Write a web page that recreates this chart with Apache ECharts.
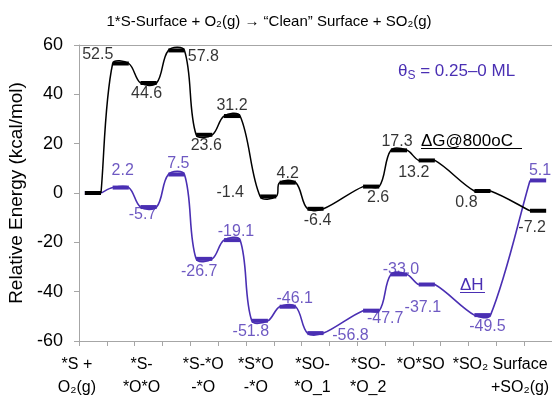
<!DOCTYPE html>
<html><head><meta charset="utf-8">
<script src="https://cdn.jsdelivr.net/npm/echarts@6/dist/echarts.min.js"></script>
<style>html,body{margin:0;padding:0;background:#fff}#c{width:552px;height:397px}</style>
</head><body><div id="c"></div>
<script>
// ---- data ----
var stepLabels = ['*S +\nO₂(g)', '*S-\n*O*O', '*S-*O\n-*O', '*S*O\n-*O', '*SO-\n*O_1', '*SO-\n*O_2', '*O*SO', '*SO₂', 'Surface\n+SO₂(g)'];
var yMin = -60, yMax = 60, yStep = 20;
var dGPos = [0, 1, 2, 3, 4, 5, 6.3, 7, 8, 10, 11, 12, 14, 16];
var dGValues = [0, 52.5, 44.6, 57.8, 23.6, 31.2, -1.4, 4.2, -6.4, 2.6, 17.3, 13.2, 0.8, -7.2];
var dHPos = [0, 1, 2, 3, 4, 5, 6, 7, 8, 10, 11, 12, 14, 16];
var dHValues = [0, 2.2, -5.7, 7.5, -26.7, -19.1, -51.8, -46.1, -56.8, -47.7, -33.0, -37.1, -49.5, 5.1];
var titleText = '1*S-Surface + O₂(g) → “Clean” Surface + SO₂(g)';
var coverageText = ['θ', 'S', ' = 0.25–0 ML'];
var dGName = 'ΔG@800oC';
var dHName = 'ΔH';
var yName = 'Relative Energy (kcal/mol)';

// ---- layout / style ----
var NB = 17;            // reaction-coordinate slots
var HALF = 0.29;        // half bar length in slots
var SMOOTH = 0.3;
var FONT = 'Liberation Sans, Arial, sans-serif';
var BLACK = '#000000';
var PURPLE = '#4a2fb3';
var AXIS = '#a6a6a6';
var labelShift = [-16, -7, -1, -4, -3, -3, -6, -12, -18];
var gLabelOff = [null, [-23, -9], [-2, 11], [27, 6], [2, 11], [0, -10], [-38, -4], [0, -9], [2, 12], [7, 11], [-2, -9], [-13, 12], [-16, 12], [-6, 17]];
var hLabelOff = [null, [2, -17], [-6, 8], [2, -11], [-5, 13], [4, -9], [-9, 11], [7, -8], [35, 2], [14, 8], [2, -5], [-4, 23], [5, 11], [2, -10]];

var cats = [];
for (var i = 0; i < NB; i++) cats.push(String(i));
var rich = {};
labelShift.forEach(function (s, k) {
  rich['r' + k] = { fontSize: 16, lineHeight: 23, color: '#000', fontFamily: FONT, padding: [0, -2 * s, 0, 0] };
});

function linePts(pos, vals) {
  var pts = [];
  for (var i = 0; i < pos.length; i++) {
    var c = pos[i] + 0.5;
    if (i > 0) pts.push([c - HALF, vals[i]]);
    if (i < pos.length - 1) pts.push([c + HALF, vals[i]]);
  }
  return pts;
}
function curveSeries(pos, vals, color, width, z) {
  return {
    type: 'custom', xAxisIndex: 1, yAxisIndex: 0, z: z, silent: true,
    data: [[0, 0]],
    renderItem: function (params, api) {
      var P = linePts(pos, vals).map(function (d) { return api.coord(d); });
      var n = P.length, dirs = [];
      for (var i = 0; i < n; i++) {
        var a = P[Math.max(i - 1, 0)], b = P[Math.min(i + 1, n - 1)];
        var dx = b[0] - a[0], dy = b[1] - a[1], L = Math.sqrt(dx * dx + dy * dy) || 1;
        dirs.push([dx / L, dy / L]);
      }
      var d = 'M' + P[0][0] + ' ' + P[0][1];
      for (var j = 0; j < n - 1; j++) {
        var sx = P[j + 1][0] - P[j][0], sy = P[j + 1][1] - P[j][1];
        var len = Math.sqrt(sx * sx + sy * sy) * SMOOTH;
        d += ' C' + (P[j][0] + dirs[j][0] * len) + ' ' + (P[j][1] + dirs[j][1] * len) + ' ' +
          (P[j + 1][0] - dirs[j + 1][0] * len) + ' ' + (P[j + 1][1] - dirs[j + 1][1] * len) + ' ' +
          P[j + 1][0] + ' ' + P[j + 1][1];
      }
      return { type: 'path', shape: { pathData: d }, style: { stroke: color, lineWidth: width, fill: null } };
    }
  };
}
function barSeries(pos, vals, color, z) {
  return {
    type: 'custom', xAxisIndex: 1, yAxisIndex: 0, z: z, silent: true,
    data: pos.map(function (p, i) { return [p + 0.5, vals[i]]; }),
    renderItem: function (params, api) {
      var c = api.value(0), v = api.value(1);
      var a = api.coord([c - HALF, v]), b = api.coord([c + HALF, v]);
      return { type: 'rect', shape: { x: a[0], y: a[1] - 2, width: b[0] - a[0], height: 4 }, style: { fill: color } };
    }
  };
}
function labelSeries(pos, vals, offs, color) {
  var data = [];
  for (var i = 0; i < pos.length; i++) {
    if (!offs[i]) continue;
    data.push({ value: [pos[i] + 0.5, vals[i]], label: { offset: offs[i] } });
  }
  return {
    type: 'scatter', xAxisIndex: 1, yAxisIndex: 0, symbolSize: 1, silent: true, z: 6,
    itemStyle: { color: 'rgba(0,0,0,0)' },
    label: { show: true, position: 'inside', fontSize: 16, color: color, fontFamily: FONT,
      formatter: function (p) { return p.value[1].toFixed(1); } },
    data: data
  };
}

var chart = echarts.init(document.getElementById('c'), null, { renderer: 'canvas' });
chart.setOption({
  animation: false,
  backgroundColor: '#fff',
  textStyle: { fontFamily: FONT },
  grid: { left: 79, right: 0, top: 45, bottom: 56, containLabel: false, outerBoundsMode: 'none' },
  xAxis: [{
    type: 'category', data: cats, position: 'bottom', boundaryGap: true,
    axisLine: { show: true, onZero: false, lineStyle: { color: AXIS, width: 1 } },
    axisTick: { show: true, interval: 0, length: 5, lineStyle: { color: AXIS } },
    axisLabel: { interval: 0, margin: 12, rich: rich, hideOverlap: false,
      formatter: function (v, idx) {
        if (idx % 2) return '';
        var k = idx / 2;
        return stepLabels[k].split('\n').map(function (t) { return '{r' + k + '|' + t + '}'; }).join('\n');
      } },
    splitLine: { show: false }
  }, {
    type: 'value', min: 0, max: NB, position: 'top',
    axisLine: { show: true, onZero: false, lineStyle: { color: AXIS, width: 1 } },
    axisTick: { show: false }, axisLabel: { show: false }, splitLine: { show: false }
  }],
  yAxis: {
    type: 'value', min: yMin, max: yMax, interval: yStep,
    name: yName, nameLocation: 'middle', nameGap: 46,
    nameTextStyle: { fontSize: 19, color: '#000' },
    axisLine: { show: true, lineStyle: { color: AXIS, width: 1 } },
    axisTick: { show: true, length: 5, lineStyle: { color: AXIS } },
    axisLabel: { fontSize: 18, color: '#000', margin: 16 },
    splitLine: { show: false }
  },
  graphic: [
    { type: 'text', x: 269, y: 22, style: { text: titleText, fill: '#000', fontSize: 15, fontFamily: FONT, align: 'center', verticalAlign: 'middle' } },
    { type: 'text', x: 398, y: 71, style: {
      text: '{a|' + coverageText[0] + '}{s|' + coverageText[1] + '}{a|' + coverageText[2] + '}',
      rich: { a: { fontSize: 17, fill: PURPLE, lineHeight: 22, fontFamily: FONT }, s: { fontSize: 12, fill: PURPLE, lineHeight: 14, verticalAlign: 'bottom', fontFamily: FONT } },
      fill: PURPLE, align: 'left', verticalAlign: 'middle', fontFamily: FONT } },
    { type: 'text', x: 421, y: 141, style: { text: dGName, fill: '#000', fontSize: 17, fontFamily: FONT, align: 'left', verticalAlign: 'middle' } },
    { type: 'line', shape: { x1: 421, y1: 148.5, x2: 522, y2: 148.5 }, style: { stroke: '#000', lineWidth: 1 } },
    { type: 'text', x: 460, y: 285, style: { text: dHName, fill: PURPLE, fontSize: 17, fontFamily: FONT, align: 'left', verticalAlign: 'middle' } },
    { type: 'line', shape: { x1: 460, y1: 292.5, x2: 485, y2: 292.5 }, style: { stroke: PURPLE, lineWidth: 1 } }
  ],
  series: [
    curveSeries(dHPos, dHValues, PURPLE, 1.6, 2),
    curveSeries(dGPos, dGValues, BLACK, 1.5, 3),
    barSeries(dHPos, dHValues, PURPLE, 4),
    barSeries(dGPos, dGValues, BLACK, 5),
    labelSeries(dGPos, dGValues, gLabelOff, BLACK),
    labelSeries(dHPos, dHValues, hLabelOff, PURPLE)
  ]
});
</script></body></html>
